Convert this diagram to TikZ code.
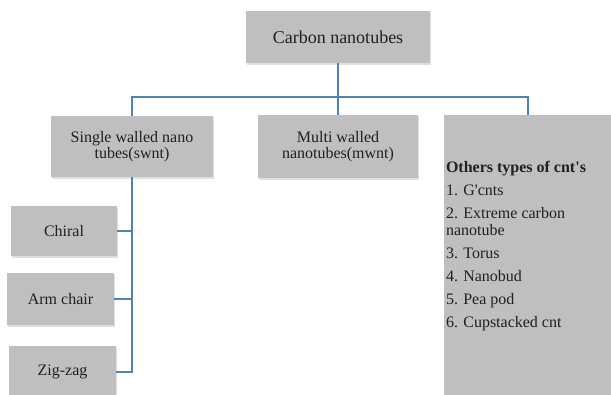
\documentclass[tikz,border=0pt]{standalone}
\usepackage{fontspec}
\setmainfont{Liberation Serif}
\usetikzlibrary{positioning,shadows}

\definecolor{boxgray}{RGB}{191,191,191}
\definecolor{linkblue}{RGB}{79,129,189}
\definecolor{inkgray}{RGB}{32,32,32}

\tikzset{
  box/.style={fill=boxgray, text=inkgray, align=center, inner sep=0pt,
    font=\fontsize{16}{16}\selectfont,
    drop shadow={shadow xshift=1pt, shadow yshift=-1.5pt, opacity=0.25}},
  link/.style={draw=linkblue, line width=1.1pt},
  listtext/.style={text=inkgray, align=left, inner sep=0pt,
    font=\fontsize{16}{17}\selectfont}
}

\begin{document}
\begin{tikzpicture}[x=1pt, y=-1pt, node distance=100pt, on grid]
\clip (0,0) rectangle (611,394);
\node[box, minimum width=184pt, minimum height=52pt, font=\fontsize{18}{18}\selectfont]
    (carbon)    at (338,37)                              {Carbon nanotubes};
\node[box, minimum width=160pt, minimum height=63pt]
    (multi)     [below=109.5pt of carbon]                {Multi walled\\nanotubes(mwnt)};
\node[box, minimum width=162pt, minimum height=61pt]
    (single)    [left=206pt of multi]                    {Single walled nano\\tubes(swnt)};
\node[box, minimum width=168pt, minimum height=290pt]
    (others)    [below right=113.5pt and 190pt of multi] {};
\node[box, minimum width=106pt, minimum height=50pt]
    (chiral)    [below left=84.5pt and 68pt of single]   {Chiral};
\node[box, minimum width=107pt, minimum height=52pt]
    (armchair)  [below left=68pt and 3.5pt of chiral]    {Arm chair};
\node[box, minimum width=107pt, minimum height=52pt]
    (zigzag)    [below right=73pt and 2pt of armchair]   {Zig-zag};
\node[listtext, anchor=north west] (othersList) at ([xshift=2pt, yshift=-46pt]others.north west)
    {\textbf{Others types of cnt\textquotesingle s}\\[6pt]
     1. G\textquotesingle cnts\\[6pt]
     2. Extreme carbon\\nanotube\\[6pt]
     3. Torus\\[6pt]
     4. Nanobud\\[6pt]
     5. Pea pod\\[6pt]
     6. Cupstacked cnt};

\coordinate (bus) at (338,97);
\draw[link] (carbon) -- (carbon |- bus);
\draw[link] (single) |- (bus) -| (others);
\draw[link] (multi) -- (multi |- bus);
\draw[link] (single) |- (zigzag);
\draw[link] (chiral) -- (chiral -| single);
\draw[link] (armchair) -- (armchair -| single);
\end{tikzpicture}
\end{document}
